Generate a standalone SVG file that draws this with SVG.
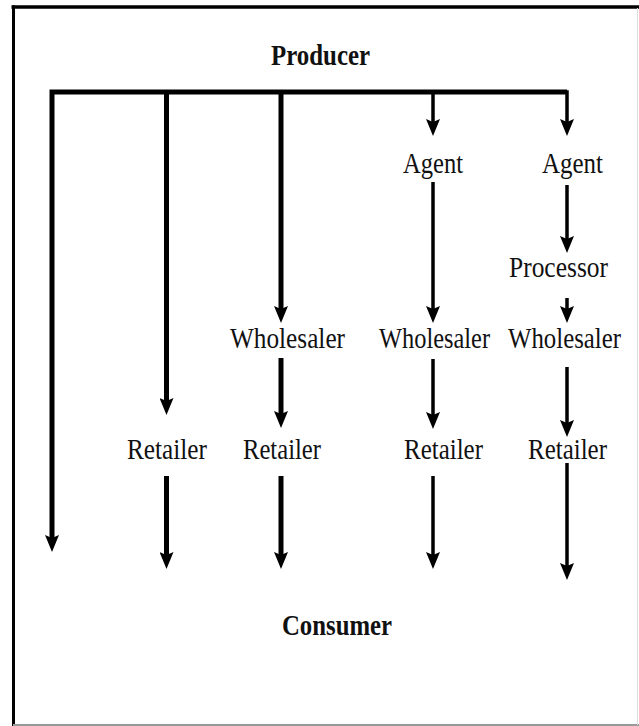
<svg xmlns="http://www.w3.org/2000/svg" width="639" height="726" viewBox="0 0 639 726">
<style>
.lbl{font-family:"Liberation Serif","Times New Roman",serif;font-size:29px;fill:#111;}
.bold{font-weight:bold;}
.thick{stroke:#000;stroke-width:5;fill:none;}
.thin{stroke:#000;stroke-width:3.5;fill:none;}
</style>
<defs>
<marker id="ah" viewBox="0 0 17 14" refX="5" refY="7" markerWidth="17" markerHeight="14" markerUnits="userSpaceOnUse" orient="auto">
<path d="M0,0 L17,7 L0,14 L3,7 Z" fill="#000"/>
</marker>
</defs>
<rect x="0" y="0" width="639" height="726" fill="#fff"/>
<g id="frame">
<line x1="11.5" y1="7" x2="639" y2="7" stroke="#000" stroke-width="3.5"/>
<line x1="13.5" y1="5.5" x2="13.5" y2="726" stroke="#000" stroke-width="3"/>
<line x1="13" y1="725" x2="639" y2="725" stroke="#999" stroke-width="2"/>
<line x1="637.5" y1="8" x2="637.5" y2="725" stroke="#ddd" stroke-width="1"/>
</g>
<g id="connectors">
<path class="thick" d="M567,92 L52,92 L52,540" stroke-linejoin="miter" marker-end="url(#ah)"/>
<line class="thick" x1="166.5" y1="92" x2="166.5" y2="403" marker-end="url(#ah)"/>
<line class="thick" x1="166.5" y1="476" x2="166.5" y2="557" marker-end="url(#ah)"/>
<line class="thick" x1="281" y1="92" x2="281" y2="311" marker-end="url(#ah)"/>
<line class="thick" x1="281" y1="358" x2="281" y2="416" marker-end="url(#ah)"/>
<line class="thick" x1="281" y1="476" x2="281" y2="557" marker-end="url(#ah)"/>
<line class="thin" x1="433" y1="92" x2="433" y2="124" marker-end="url(#ah)"/>
<line class="thin" x1="433" y1="182" x2="433" y2="311" marker-end="url(#ah)"/>
<line class="thin" x1="433" y1="359" x2="433" y2="417" marker-end="url(#ah)"/>
<line class="thin" x1="433" y1="476" x2="433" y2="557" marker-end="url(#ah)"/>
<path class="thin" d="M564,92 L567,92 L567,124" marker-end="url(#ah)"/>
<line class="thin" x1="567" y1="185" x2="567" y2="241" marker-end="url(#ah)"/>
<line class="thin" x1="567" y1="298" x2="567" y2="311" marker-end="url(#ah)"/>
<line class="thin" x1="567" y1="367" x2="567" y2="425" marker-end="url(#ah)"/>
<line class="thin" x1="567" y1="463" x2="567" y2="568" marker-end="url(#ah)"/>
</g>
<g id="producer"><text class="lbl bold" x="271" y="65" textLength="99" lengthAdjust="spacingAndGlyphs">Producer</text></g>
<g id="agent1"><text class="lbl" x="403" y="173" textLength="60" lengthAdjust="spacingAndGlyphs">Agent</text></g>
<g id="agent2"><text class="lbl" x="542" y="173" textLength="61" lengthAdjust="spacingAndGlyphs">Agent</text></g>
<g id="processor"><text class="lbl" x="509" y="277" textLength="99" lengthAdjust="spacingAndGlyphs">Processor</text></g>
<g id="wholesaler1"><text class="lbl" x="230" y="348" textLength="115" lengthAdjust="spacingAndGlyphs">Wholesaler</text></g>
<g id="wholesaler2"><text class="lbl" x="379" y="348" textLength="111" lengthAdjust="spacingAndGlyphs">Wholesaler</text></g>
<g id="wholesaler3"><text class="lbl" x="508" y="348" textLength="113" lengthAdjust="spacingAndGlyphs">Wholesaler</text></g>
<g id="retailer1"><text class="lbl" x="127" y="459" textLength="80" lengthAdjust="spacingAndGlyphs">Retailer</text></g>
<g id="retailer2"><text class="lbl" x="243" y="459" textLength="78" lengthAdjust="spacingAndGlyphs">Retailer</text></g>
<g id="retailer3"><text class="lbl" x="404" y="459" textLength="79" lengthAdjust="spacingAndGlyphs">Retailer</text></g>
<g id="retailer4"><text class="lbl" x="528" y="459" textLength="79" lengthAdjust="spacingAndGlyphs">Retailer</text></g>
<g id="consumer"><text class="lbl bold" x="282" y="635" textLength="110" lengthAdjust="spacingAndGlyphs">Consumer</text></g>
</svg>
